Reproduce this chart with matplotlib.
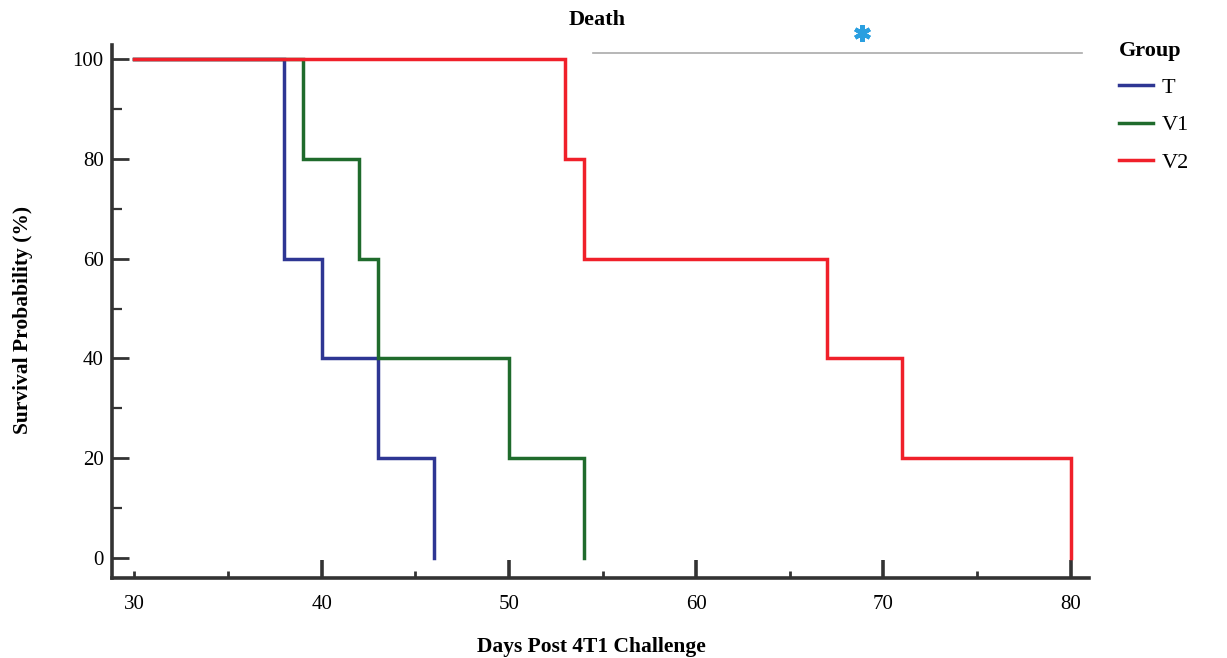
import numpy as np
import matplotlib
matplotlib.use("Agg")
import matplotlib.pyplot as plt
import matplotlib.ticker as ticker

# Kaplan-Meier step data (days, survival %)
days_T = [30, 38, 40, 43, 46]
surv_T = [100, 60, 40, 20, 0]
days_V1 = [30, 39, 42, 43, 50, 54]
surv_V1 = [100, 80, 60, 40, 20, 0]
days_V2 = [30, 53, 54, 67, 71, 80]
surv_V2 = [100, 80, 60, 40, 20, 0]

groups = ["T", "V1", "V2"]
colors = ["#2E3693", "#1F6B2C", "#F0202A"]

# "Death" bracket across the top
death_x = [54.5, 80.6]
star_x = 68.85

plt.rcParams['font.family'] = ['Liberation Serif', 'DejaVu Serif']

fig = plt.figure(figsize=(12.27, 6.58), dpi=100)
ax = fig.add_axes([0.0913, 0.1216, 0.7966, 0.81])

def km_steps(d, s):
    # build step path: horizontal then vertical drop at each event
    xs, ys = [d[0]], [s[0]]
    for i in range(1, len(d)):
        xs += [d[i], d[i]]
        ys += [s[i - 1], s[i]]
    return xs, ys

for d, s, c, g in zip([days_T, days_V1, days_V2], [surv_T, surv_V1, surv_V2], colors, groups):
    xs, ys = km_steps(d, s)
    ax.plot(xs, ys, color=c, lw=2.5, label=g, solid_joinstyle='miter')

ax.set_xlim(28.8, 81.0)
ax.set_ylim(-4, 102.8)

for sp in ['top', 'right']:
    ax.spines[sp].set_visible(False)
for sp in ['left', 'bottom']:
    ax.spines[sp].set_linewidth(2.6)
    ax.spines[sp].set_color('#333333')

ax.xaxis.set_major_locator(ticker.FixedLocator([40, 50, 60, 70, 80]))
ax.xaxis.set_minor_locator(ticker.FixedLocator([30, 35, 45, 55, 65, 75]))
ax.xaxis.set_minor_formatter(ticker.FuncFormatter(lambda v, p: "30" if v == 30 else ""))
ax.yaxis.set_major_locator(ticker.MultipleLocator(20))
ax.yaxis.set_minor_locator(ticker.MultipleLocator(10))

ax.tick_params(axis='x', which='major', direction='in', length=13, width=2.6,
               color='#333333', pad=12, labelsize=15)
ax.tick_params(axis='x', which='minor', direction='in', length=5, width=2,
               color='#333333', pad=12, labelsize=15)
ax.tick_params(axis='y', which='major', direction='in', length=12, width=2,
               color='#333333', pad=6, labelsize=15)
ax.tick_params(axis='y', which='minor', direction='in', length=7, width=1.6,
               color='#333333')

ax.set_xlabel("Days Post 4T1 Challenge", fontsize=15.5, fontweight='bold')
ax.set_ylabel("Survival Probability (%)", fontsize=15.5, fontweight='bold')
ax.xaxis.set_label_coords(0.49, -0.11)
ax.yaxis.set_label_coords(-0.081, 0.485)

# death annotation
ax.plot(death_x, [101.2, 101.2], color='#aaaaaa', lw=1.2, clip_on=False)
ax.plot([star_x], [105.3], marker=(6, 2, 0), color='#2A9FE0', ms=12, mew=3, clip_on=False)
ax.text(53.2, 107.8, "Death", fontsize=16, fontweight='bold', ha='left', va='center',
        clip_on=False)

leg = ax.legend(title="Group", loc='upper left', bbox_to_anchor=(1.01, 1.045),
                frameon=False, fontsize=16, handlelength=1.5, handletextpad=0.4,
                labelspacing=0.75,
                title_fontproperties={'weight': 'bold', 'size': 16})
leg._legend_box.align = 'left'

fig.savefig("out.png", dpi=100)
